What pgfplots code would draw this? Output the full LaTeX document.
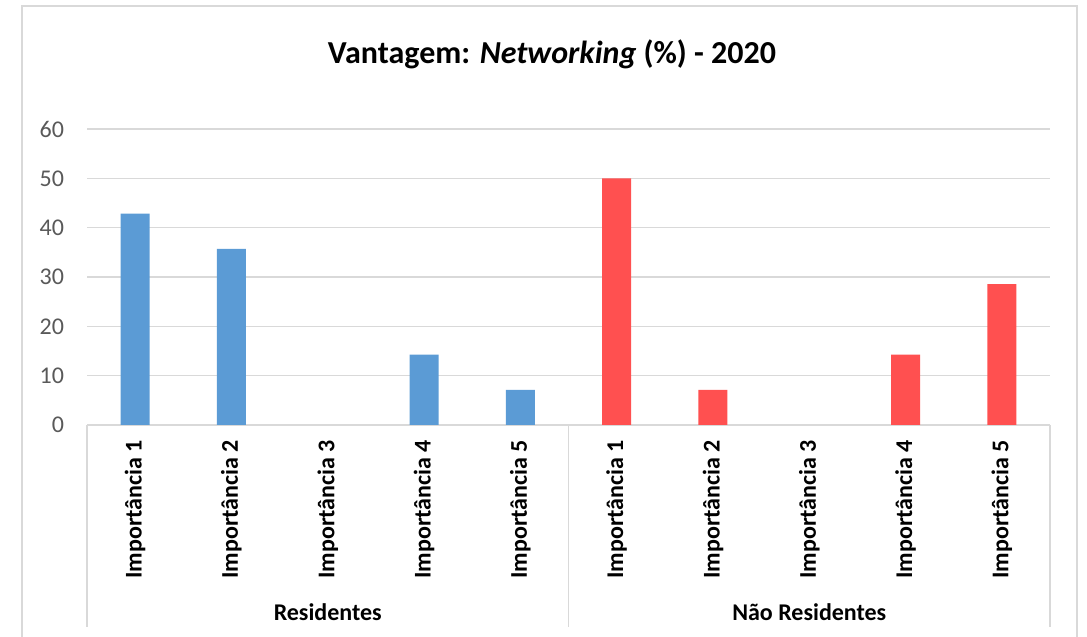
\documentclass[border=0pt]{standalone}
\usepackage{fontspec}
\setmainfont{Carlito}
\usepackage{pgfplots}
\pgfplotsset{compat=1.18}
\definecolor{cblue}{HTML}{5B9BD5}
\definecolor{cred}{HTML}{FF5050}
\definecolor{cgrid}{HTML}{D9D9D9}
\definecolor{ctick}{HTML}{595959}
\begin{document}
\begin{tikzpicture}
\useasboundingbox (0,0) rectangle (543.5pt,318.5pt);
\draw[cgrid, line width=0.75pt] (11pt,-2pt) -- (11pt,315.5pt) -- (538.5pt,315.5pt) -- (538.5pt,-2pt);
\node[font=\fontsize{16}{18}\selectfont\bfseries] at (276pt,291.5pt) {Vantagem: \textit{Networking} (\%) - 2020};
\begin{axis}[
  at={(43.5pt,106pt)}, anchor=south west, scale only axis,
  width=481.5pt, height=148pt,
  xmin=-0.5, xmax=9.5, ymin=0, ymax=60,
  ytick={0,10,...,60},
  xtick={0,...,9},
  xticklabels={Importância 1,Importância 2,Importância 3,Importância 4,Importância 5,Importância 1,Importância 2,Importância 3,Importância 4,Importância 5},
  xticklabel style={rotate=90, anchor=east, font=\fontsize{12}{14}\selectfont\bfseries, text=black, xshift=-4pt},
  yticklabel style={font=\fontsize{12}{14}\selectfont, text=ctick, xshift=-8pt},
  /pgf/number format/assume math mode=true,
  major tick length=0pt,
  axis x line*=bottom, axis y line*=left,
  x axis line style={draw=cgrid, line width=0.75pt, -},
  y axis line style={draw=none},
  ymajorgrids, grid style={draw=cgrid, line width=0.75pt},
  ybar, bar width=14.5pt, bar shift=0pt,
  clip=false,
]
\addplot[fill=cblue, draw=none] coordinates {(0,42.86) (1,35.71) (3,14.29) (4,7.14)};
\addplot[fill=cred, draw=none] coordinates {(5,50) (6,7.14) (8,14.29) (9,28.57)};
\draw[cgrid, line width=0.75pt] (axis cs:-0.5,0) -- ([yshift=-101pt]axis cs:-0.5,0);
\draw[cgrid, line width=0.75pt] (axis cs:4.5,0) -- ([yshift=-101pt]axis cs:4.5,0);
\draw[cgrid, line width=0.75pt] (axis cs:9.5,0) -- ([yshift=-101pt]axis cs:9.5,0);
\node[font=\fontsize{12}{14}\selectfont\bfseries] at ([yshift=-93.5pt]axis cs:2,0) {Residentes};
\node[font=\fontsize{12}{14}\selectfont\bfseries] at ([yshift=-93.5pt]axis cs:7,0) {Não Residentes};
\end{axis}
\end{tikzpicture}
\end{document}
